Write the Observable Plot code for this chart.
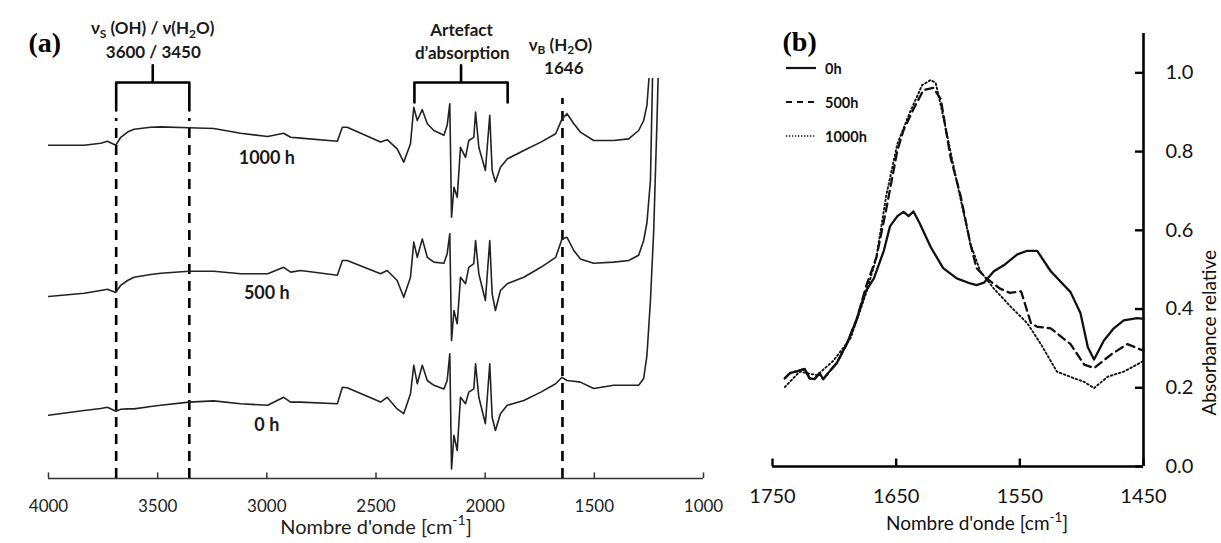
<!DOCTYPE html>
<html><head><meta charset="utf-8">
<script src="https://cdn.jsdelivr.net/npm/d3@7"></script>
<script src="https://cdn.jsdelivr.net/npm/@observablehq/plot@0.6"></script>
<style>
body{margin:0;background:#fff;}
#wrap{position:relative;width:1221px;height:543px;overflow:hidden;background:#fff;font-family:Lato,"Open Sans",sans-serif;}
#pa,#pb{position:absolute;top:0;}
#pa{left:0;}
#pb{left:740px;}
#legend{position:absolute;left:786px;top:51px;}
#legend .row{display:flex;align-items:center;height:34px;}
#legend svg{width:30px;height:10px;margin-right:9px;}
#legend span{font-weight:bold;font-size:14.5px;color:#111;}
</style></head><body>
<div id="wrap"><div id="pa"></div><div id="pb"></div><div id="legend"></div></div>
<script>
// ---------- Panel (a): FTIR spectra (offset, arbitrary units) ----------
const wavenumberA = [4000,3837,3761,3730,3692,3669,3638,3608,3532,3486,3357,3243,3120,2996,2923,2891,2845,2677,2654,2632,2479,2449,2403,2373,2342,2327,2311,2288,2265,2235,2189,2174,2162,2154,2143,2128,2113,2090,2075,2052,2044,2029,1999,1979,1968,1953,1930,1899,1823,1745,1677,1648,1625,1594,1564,1503,1411,1343,1297,1274,1259,1243,1228,1213,1198];
const spectrum1000h = [0.833,0.833,0.838,0.843,0.833,0.853,0.866,0.873,0.878,0.879,0.877,0.875,0.863,0.855,0.863,0.853,0.851,0.843,0.878,0.878,0.841,0.847,0.824,0.791,0.837,0.928,0.895,0.922,0.887,0.870,0.858,0.883,0.937,0.653,0.728,0.703,0.828,0.803,0.845,0.853,0.916,0.828,0.770,0.908,0.770,0.741,0.778,0.799,0.820,0.841,0.862,0.899,0.912,0.887,0.866,0.845,0.845,0.849,0.870,0.895,0.933,1.05,1.3,1.3,1.3];
const spectrum500h = [0.455,0.463,0.470,0.473,0.465,0.483,0.495,0.503,0.510,0.513,0.518,0.518,0.512,0.512,0.528,0.516,0.520,0.508,0.545,0.545,0.512,0.520,0.495,0.453,0.503,0.591,0.553,0.599,0.553,0.541,0.538,0.562,0.612,0.345,0.420,0.387,0.503,0.487,0.528,0.537,0.595,0.512,0.445,0.595,0.462,0.420,0.470,0.487,0.503,0.528,0.553,0.599,0.603,0.570,0.549,0.538,0.541,0.545,0.558,0.595,0.640,0.745,1.15,1.3,1.3];
const spectrum0h = [0.158,0.170,0.175,0.178,0.168,0.173,0.174,0.174,0.180,0.183,0.191,0.194,0.187,0.183,0.203,0.191,0.191,0.187,0.228,0.227,0.191,0.203,0.174,0.162,0.212,0.283,0.237,0.283,0.245,0.233,0.224,0.245,0.312,0.024,0.108,0.070,0.203,0.187,0.216,0.224,0.287,0.203,0.137,0.287,0.153,0.120,0.162,0.183,0.195,0.216,0.237,0.253,0.245,0.243,0.241,0.225,0.233,0.233,0.233,0.250,0.308,0.445,0.620,0.895,1.2];
const seriesNamesA = ["1000 h","500 h","0 h"];
const seriesLabelYA = [0.80,0.462,0.133];
const seriesLabelXA = 3000;
const xTicksA = [4000,3500,3000,2500,2000,1500,1000];
const markerLinesA = [3690,3355,1646];
const markerTopsA = [0.9,0.9,0.95];
const bracketsA = [
  {from:3690,to:3355,low:0.92,high:0.99,tip:1.033},
  {from:2324,to:1897,low:0.94,high:0.99,tip:1.033}
];
const annotationTextA = ["ν_{S} (OH) / ν(H_{2}O)","3600 / 3450","Artefact","d’absorption","ν_{B} (H_{2}O)","1646"];
const annotationXA = [3523,3520,2108,2105,1655,1640];
const annotationYA = [1.124,1.066,1.121,1.062,1.083,1.024];
const xTitle = "Nombre d'onde [cm^{-1}]";

// ---------- Panel (b): relative absorbance zoom ----------
const wn0h = [1740,1736,1729,1724,1720,1716,1712,1709,1704,1698,1690,1682,1675,1668,1660,1655,1649,1644,1640,1636,1631,1622,1612,1601,1590,1585,1579,1571,1563,1552,1544,1536,1525,1509,1501,1495,1490,1482,1474,1466,1455,1450];
const abs0h = [0.224,0.237,0.243,0.248,0.224,0.222,0.237,0.222,0.241,0.263,0.311,0.373,0.443,0.478,0.548,0.610,0.636,0.647,0.636,0.648,0.618,0.557,0.504,0.478,0.465,0.461,0.467,0.496,0.511,0.539,0.548,0.548,0.496,0.443,0.390,0.303,0.272,0.320,0.351,0.371,0.377,0.375];
const wn500h = [1740,1736,1729,1724,1720,1716,1712,1709,1704,1698,1690,1682,1674,1666,1658,1649,1644,1636,1628,1620,1614,1606,1598,1590,1585,1577,1566,1558,1549,1541,1536,1525,1509,1498,1490,1476,1463,1450];
const abs500h = [0.224,0.237,0.243,0.248,0.224,0.222,0.237,0.222,0.241,0.263,0.311,0.373,0.461,0.531,0.654,0.803,0.855,0.908,0.956,0.962,0.934,0.785,0.689,0.566,0.504,0.478,0.452,0.441,0.445,0.364,0.355,0.351,0.311,0.259,0.250,0.285,0.311,0.294];
const wn1000h = [1740,1728,1714,1701,1687,1674,1666,1658,1649,1639,1629,1622,1618,1612,1601,1590,1582,1571,1558,1544,1533,1520,1506,1498,1490,1479,1466,1450];
const abs1000h = [0.202,0.241,0.232,0.268,0.325,0.443,0.531,0.689,0.820,0.899,0.969,0.982,0.974,0.890,0.724,0.566,0.496,0.452,0.408,0.364,0.311,0.241,0.224,0.215,0.199,0.228,0.241,0.268];
const seriesNamesB = ["0h","500h","1000h"];
const dashB = ["none","8,5","1.6,2.6"];
const xTicksB = [1750,1650,1550,1450];
const yTicksB = [0,0.2,0.4,0.6,0.8,1.0];
const yTitleB = "Absorbance relative";

// ---------- helpers ----------
function richText(svg){
  const NS = "http://www.w3.org/2000/svg";
  svg.querySelectorAll("text").forEach(t => {
    const s = t.textContent;
    if (!/[_^]\{/.test(s)) return;
    t.textContent = "";
    const re = /([_^])\{([^}]*)\}/g;
    let last = 0, shift = 0, m;
    const add = (str, kind) => {
      if (!str) return;
      const ts = document.createElementNS(NS, "tspan");
      ts.textContent = str;
      let f = 1, target = 0;
      if (kind === "_") { f = 0.7; target = 0.22; }
      if (kind === "^") { f = 0.7; target = -0.42; }
      if (f !== 1) ts.setAttribute("font-size", (f*100) + "%");
      const dy = (target - shift) / f;
      if (Math.abs(dy) > 1e-6) ts.setAttribute("dy", dy.toFixed(3) + "em");
      shift = target;
      t.appendChild(ts);
    };
    while ((m = re.exec(s))) { add(s.slice(last, m.index), null); add(m[2], m[1]); last = re.lastIndex; }
    add(s.slice(last), null);
  });
}

// ---------- build panel (a) ----------
const seriesA = [spectrum1000h, spectrum500h, spectrum0h];
const rowsA = seriesNamesA.flatMap((name, k) => wavenumberA.map((w, i) => ({w, v: seriesA[k][i], name})));
const bracketRows = bracketsA.flatMap((b, k) => {
  const mid = (b.from + b.to) / 2;
  return [[b.from,b.low],[b.from,b.high],[mid,b.high],[mid,b.tip],[mid,b.high],[b.to,b.high],[b.to,b.low]]
    .map(([w, v]) => ({w, v, k}));
});
const annA = annotationTextA.map((label, i) => ({label, w: annotationXA[i], v: annotationYA[i]}));
const markA = markerLinesA.map((w, i) => ({w, top: markerTopsA[i]}));
const labA = seriesNamesA.map((name, i) => ({name, v: seriesLabelYA[i]}));

const plotA = Plot.plot({
  width: 740, height: 543,
  marginTop: 78, marginBottom: 65, marginLeft: 48, marginRight: 37,
  style: {fontFamily: "Lato, 'Open Sans', sans-serif", fontSize: "16px", color: "#222", background: "transparent", overflow: "visible"},
  x: {domain: [4000, 1000]},
  y: {domain: [0, 1], axis: null},
  marks: [
    Plot.ruleY([0], {stroke: "#333", strokeWidth: 1.5}),
    Plot.ruleX(xTicksA, {x: d => d, y1: 0, y2: 0.014, stroke: "#333", strokeWidth: 1.5}),
    Plot.axisX({ticks: xTicksA, tickSize: 0, tickPadding: 21, tickFormat: d => String(d), fontSize: 17, label: null}),
    Plot.ruleX(markA, {x: "w", y1: 0, y2: "top", stroke: "#000", strokeWidth: 2.6, strokeDasharray: "10,7"}),
    Plot.line(rowsA, {x: "w", y: "v", z: "name", stroke: "#222", strokeWidth: 1.6, clip: true}),
    Plot.line(bracketRows, {x: "w", y: "v", z: "k", stroke: "#000", strokeWidth: 2.6, strokeLinejoin: "round"}),
    Plot.text(annA, {x: "w", y: "v", text: "label", fontWeight: "bold", fontSize: 17, fill: "#1a1a1a"}),
    Plot.text(labA, {x: () => seriesLabelXA, y: "v", text: "name", fontWeight: "bold", fontSize: 18, fill: "#1a1a1a"}),
    Plot.text(["(a)"], {text: d => d, frameAnchor: "top-left", dx: -20, dy: -46, fontFamily: "'Liberation Serif', serif", fontWeight: "bold", fontSize: 28, fill: "#000"}),
    Plot.text([xTitle], {text: d => d, frameAnchor: "bottom", dy: 55, fontSize: 20, fill: "#222"})
  ]
});
richText(plotA);
document.getElementById("pa").appendChild(plotA);

// ---------- build panel (b) ----------
const wnB = [wn0h, wn500h, wn1000h];
const absB = [abs0h, abs500h, abs1000h];
const linesB = seriesNamesB.map((name, k) => Plot.line(wnB[k].map((w, i) => ({w, v: absB[k][i]})), {
  x: "w", y: "v", stroke: "#111", strokeWidth: k === 2 ? 1.9 : 2.3,
  strokeDasharray: dashB[k] === "none" ? null : dashB[k]
}));
const plotB = Plot.plot({
  width: 481, height: 543,
  marginTop: 33, marginBottom: 77, marginLeft: 32, marginRight: 78,
  style: {fontFamily: "Lato, 'Open Sans', sans-serif", fontSize: "20px", color: "#111", background: "transparent", overflow: "visible"},
  x: {domain: [1750, 1450]},
  y: {domain: [0, 1.1]},
  marks: [
    Plot.ruleY([0], {stroke: "#000", strokeWidth: 2.6}),
    Plot.ruleX([xTicksB[xTicksB.length - 1]], {stroke: "#000", strokeWidth: 2.6}),
    Plot.ruleX(xTicksB, {x: d => d, y1: 0, y2: 0.019, stroke: "#000", strokeWidth: 2.4}),
    Plot.ruleY(yTicksB, {y: d => d, x1: 1450, x2: 1456.5, stroke: "#000", strokeWidth: 2.4}),
    Plot.axisX({ticks: xTicksB, tickSize: 0, tickPadding: 22, tickFormat: d => String(d), fontSize: 20, label: null}),
    Plot.axisY({anchor: "right", ticks: yTicksB, tickSize: 0, tickPadding: 22, tickFormat: d3.format(".1f"), fontSize: 20, label: null}),
    ...linesB,
    Plot.text([yTitleB], {text: d => d, frameAnchor: "right", dx: 66, rotate: -90, fontSize: 19, fill: "#111"}),
    Plot.text([xTitle], {text: d => d, frameAnchor: "bottom", dx: 19, dy: 63, fontSize: 19, fill: "#111"}),
    Plot.text(["(b)"], {text: d => d, frameAnchor: "top-left", dx: 10, dy: -2, fontFamily: "'Liberation Serif', serif", fontWeight: "bold", fontSize: 28, fill: "#000"})
  ]
});
richText(plotB);
document.getElementById("pb").appendChild(plotB);

// ---------- legend (b) ----------
const lg = document.getElementById("legend");
seriesNamesB.forEach((name, k) => {
  const row = document.createElement("div");
  row.className = "row";
  const dash = dashB[k] === "none" ? "" : `stroke-dasharray="${k === 2 ? '1.3,1.7' : '6,5'}"`;
  row.innerHTML = `<svg viewBox="0 0 30 10"><line x1="0" y1="5" x2="30" y2="5" stroke="#111" stroke-width="${k === 2 ? 1.4 : 2.2}" ${dash}/></svg><span>${name}</span>`;
  lg.appendChild(row);
});
</script>
</body></html>
